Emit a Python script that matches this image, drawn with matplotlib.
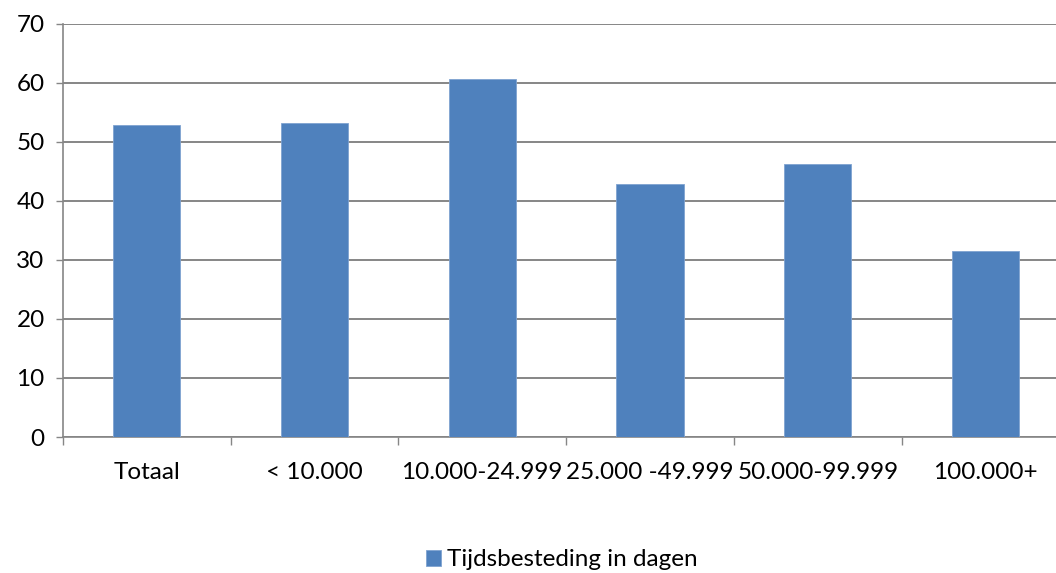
import numpy as np
import matplotlib
matplotlib.use('Agg')
import matplotlib.pyplot as plt
from matplotlib.ticker import FixedLocator

categories = ['Totaal', '< 10.000', '10.000-24.999', '25.000 -49.999', '50.000-99.999', '100.000+']
values = [52.8, 53.1, 60.6, 42.9, 46.2, 31.5]
series_name = 'Tijdsbesteding in dagen'

plt.rcParams['font.family'] = ['Lato', 'DejaVu Sans']

fig = plt.figure(figsize=(10.56, 5.73), dpi=100)
# plot area runs past the right edge of the picture, as in the original screenshot
ax = fig.add_axes([62.7 / 1056, 1 - 437 / 573, (1069.5 - 62.7) / 1056, (437 - 23.5) / 573])

x = np.arange(len(categories))
ax.bar(x, values, width=0.4, color='#4F81BD', edgecolor='#7FA3D1', linewidth=0.6,
       label=series_name, zorder=3)

ax.set_xlim(-0.5, len(categories) - 0.5)
ax.set_ylim(0, 70)
ax.set_yticks(range(0, 71, 10))
ax.yaxis.grid(True, color='#868686', linewidth=1.4, zorder=0)

# category boundaries get the tick marks, labels sit in the middle
ax.xaxis.set_major_locator(FixedLocator(np.arange(-0.5, len(categories), 1.0)))
ax.xaxis.set_minor_locator(FixedLocator(x))
ax.set_xticklabels([], minor=False)
ax.set_xticklabels(categories, minor=True)
ax.tick_params(axis='x', which='major', length=6, width=1, color='#868686', direction='out')
ax.tick_params(axis='x', which='minor', length=0, pad=18, labelsize=17.5)
ax.tick_params(axis='y', length=5, width=1, color='#868686', pad=8, labelsize=17.5)

for side in ['top', 'right']:
    ax.spines[side].set_visible(False)
for side in ['left', 'bottom']:
    ax.spines[side].set_color('#868686')
    ax.spines[side].set_linewidth(1.2)

fig.legend(loc='center', bbox_to_anchor=(562 / 1056, 1 - 560 / 573), frameon=False,
           fontsize=17.5, handlelength=0.6, handleheight=0.6, handletextpad=0.25,
           borderpad=0.1)

fig.savefig('out.png', dpi=100)
